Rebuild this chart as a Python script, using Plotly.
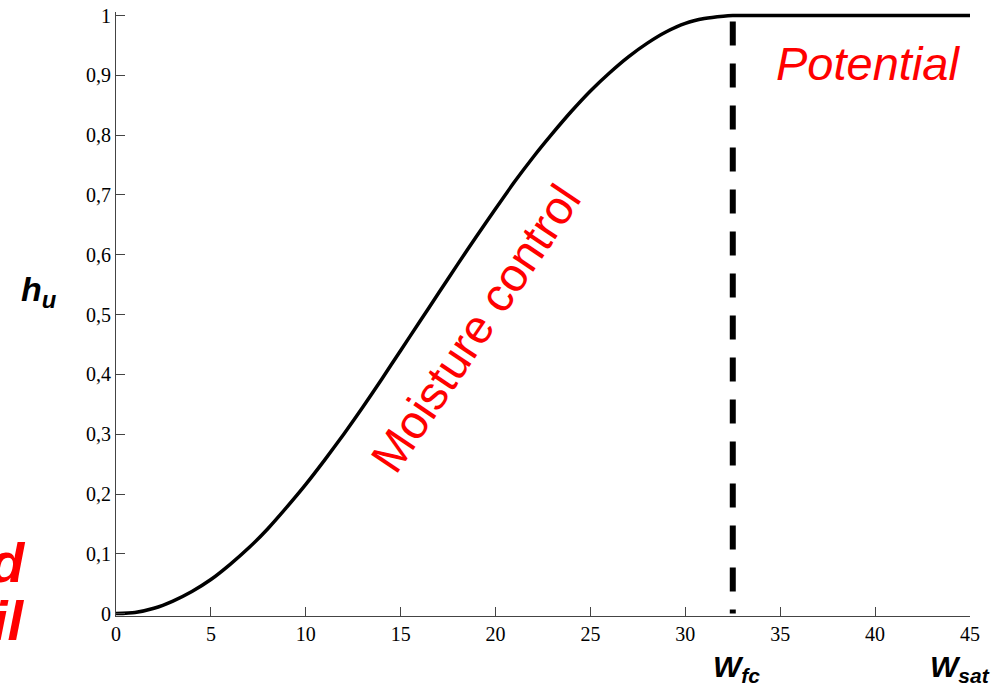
import plotly.graph_objects as go

# Moisture (w) and relative humidity factor h_u
w_values = [0, 1, 2, 3, 4, 5, 6, 7, 8, 9, 10, 11, 12, 13, 14, 15, 16, 17, 18, 19,
            20, 21, 22, 23, 24, 25, 26, 27, 28, 29, 30, 31, 32, 32.5, 45]
hu_values = [0.0, 0.002, 0.009, 0.021, 0.037, 0.057, 0.082, 0.110, 0.142, 0.178,
             0.216, 0.257, 0.300, 0.345, 0.392, 0.440, 0.488, 0.536, 0.584, 0.631,
             0.677, 0.722, 0.764, 0.803, 0.840, 0.874, 0.904, 0.931, 0.954, 0.973,
             0.987, 0.995, 0.999, 1.0, 1.0]

w_fc = 32.5
fc_line_y = [0.99, 0.0]

x_tick_vals = [0, 5, 10, 15, 20, 25, 30, 35, 40, 45]
x_tick_text = ["0", "5", "10", "15", "20", "25", "30", "35", "40", "45"]
y_tick_vals = [0, 0.1, 0.2, 0.3, 0.4, 0.5, 0.6, 0.7, 0.8, 0.9, 1]
y_tick_text = ["0", "0,1", "0,2", "0,3", "0,4", "0,5", "0,6", "0,7", "0,8", "0,9", "1"]

fig = go.Figure()
fig.add_trace(go.Scatter(x=w_values, y=hu_values, mode="lines",
                         line=dict(color="black", width=3.5, shape="spline", smoothing=0.6),
                         showlegend=False, hoverinfo="skip"))
fig.add_trace(go.Scatter(x=[w_fc, w_fc], y=fc_line_y, mode="lines",
                         line=dict(color="black", width=6, dash="24px,18px"),
                         showlegend=False, hoverinfo="skip"))

serif = "Liberation Serif"
sans = "Liberation Sans"

FW, FH = 999, 690
pl, pr, pt, pb = 116, 29, 12, 74


def px(x):
    return (x - pl) / (FW - pl - pr)


def py(y):
    return 1 - (y - pt) / (FH - pt - pb)


def note(text, x, y, size, color, angle=0, xanchor="center"):
    return dict(text=text, x=px(x), y=py(y), xref="paper", yref="paper",
                showarrow=False, textangle=angle, xanchor=xanchor, yanchor="middle",
                font=dict(family=sans, size=size, color=color))


axis_common = dict(showgrid=False, zeroline=False, showline=True, linecolor="#444",
                   linewidth=1, ticks="inside", ticklen=9, tickcolor="#444",
                   ticklabeloverflow="allow", automargin=False,
                   tickfont=dict(family=serif, size=20, color="black"))

fig.update_layout(
    width=FW, height=FH,
    margin=dict(l=pl, r=pr, t=pt, b=pb, autoexpand=False),
    paper_bgcolor="white", plot_bgcolor="white",
    xaxis=dict(range=[0, 45], tickvals=x_tick_vals, ticktext=x_tick_text, **axis_common),
    yaxis=dict(range=[-0.004, 1.006], tickvals=y_tick_vals, ticktext=y_tick_text,
               **axis_common),
    annotations=[
        note("<i>Potential</i>", 868, 63, 47, "red"),
        note("Moisture control", 475, 328, 47, "red", angle=-56),
        note("<b><i>h<sub>u</sub></i></b>", 39, 292, 34, "black"),
        note("<b><i>W<sub>fc</sub></i></b>", 736, 668, 30, "black"),
        note("<b><i>W<sub>sat</sub></i></b>", 960, 668, 30, "black"),
        note("<b><i>d</i></b>", 28, 562, 56, "red", xanchor="right"),
        note("<b><i>il</i></b>", 27, 620, 56, "red", xanchor="right"),
    ],
)

fig.write_html("out.html", config={"displayModeBar": False},
               post_script="document.body.style.margin='0';document.body.style.overflow='hidden';")
